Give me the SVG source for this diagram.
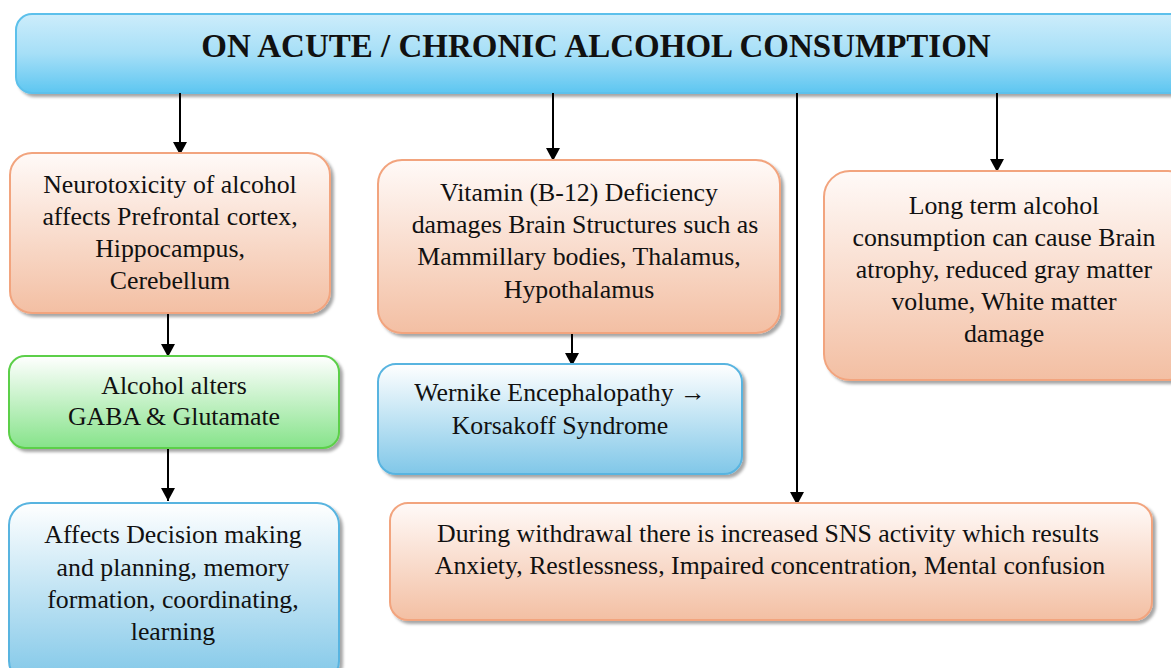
<svg xmlns="http://www.w3.org/2000/svg" width="1171" height="668" viewBox="0 0 1171 668" font-family="Liberation Serif, Times New Roman, serif">
<style>
.t{font-family:'Liberation Serif','Times New Roman',serif;font-size:25.8px;fill:#111;text-anchor:middle}
.title{font-family:'Liberation Serif','Times New Roman',serif;font-size:33px;font-weight:bold;fill:#111;text-anchor:middle}
.peach{fill:url(#gPeach);stroke:#f2a47e;stroke-width:2}
.green{fill:url(#gGreen);stroke:#5ccf4a;stroke-width:2}
.blue{fill:url(#gBlue);stroke:#58b4e0;stroke-width:2}
.conn{stroke:#000;stroke-width:2;fill:none;marker-end:url(#ah)}
</style>
<defs>
<linearGradient id="gTitle" x1="0" y1="0" x2="0" y2="1"><stop offset="0" stop-color="#cdedfb"/><stop offset="0.5" stop-color="#a6dff7"/><stop offset="1" stop-color="#5dc6f1"/></linearGradient>
<linearGradient id="gPeach" x1="0" y1="0" x2="0" y2="1"><stop offset="0" stop-color="#fffaf8"/><stop offset="1" stop-color="#f3bfa3"/></linearGradient>
<linearGradient id="gGreen" x1="0" y1="0" x2="0" y2="1"><stop offset="0" stop-color="#ffffff"/><stop offset="1" stop-color="#86e38a"/></linearGradient>
<linearGradient id="gBlue" x1="0" y1="0" x2="0" y2="1"><stop offset="0" stop-color="#ffffff"/><stop offset="1" stop-color="#80c7e8"/></linearGradient>
<filter id="sh" x="-5%" y="-5%" width="115%" height="120%"><feDropShadow dx="3" dy="3" stdDeviation="1.5" flood-color="#000" flood-opacity="0.35"/></filter>
<marker id="ah" markerWidth="14" markerHeight="14" viewBox="0 0 13 14" refX="13" refY="7" orient="auto" markerUnits="userSpaceOnUse"><path d="M0,0 L13,7 L0,14 Z" fill="#000"/></marker>
</defs>
<g id="title">
<rect x="16" y="14" width="1175" height="79" rx="16" fill="url(#gTitle)" stroke="#5bc0eb" stroke-width="2" filter="url(#sh)"/>
<text class="title" x="596" y="57">ON ACUTE / CHRONIC ALCOHOL CONSUMPTION</text>
</g>
<g id="connectors">
<line class="conn" x1="180" y1="93" x2="180" y2="155"/>
<line class="conn" x1="553" y1="93" x2="553" y2="161"/>
<line class="conn" x1="797" y1="93" x2="797" y2="505"/>
<line class="conn" x1="997" y1="93" x2="997" y2="172"/>
<line class="conn" x1="168" y1="314" x2="168" y2="357"/>
<line class="conn" x1="572" y1="334" x2="572" y2="366"/>
<line class="conn" x1="168" y1="449" x2="168" y2="501"/>
</g>
<g id="neuro">
<rect class="peach" x="10" y="153" width="320" height="160" rx="22" filter="url(#sh)"/>
<text class="t" x="170" y="193">Neurotoxicity of alcohol</text>
<text class="t" x="170" y="225">affects Prefrontal cortex,</text>
<text class="t" x="170" y="257">Hippocampus,</text>
<text class="t" x="170" y="289">Cerebellum</text>
</g>
<g id="gaba">
<rect class="green" x="9" y="356" width="330" height="92" rx="16" filter="url(#sh)"/>
<text class="t" x="174" y="394">Alcohol alters</text>
<text class="t" x="174" y="425">GABA &amp; Glutamate</text>
</g>
<g id="affects">
<rect class="blue" x="9" y="503" width="330" height="180" rx="22" filter="url(#sh)"/>
<text class="t" x="173" y="543">Affects Decision making</text>
<text class="t" x="173" y="576">and planning, memory</text>
<text class="t" x="173" y="608">formation, coordinating,</text>
<text class="t" x="173" y="640">learning</text>
</g>
<g id="vitamin">
<rect class="peach" x="378" y="160" width="402" height="173" rx="24" filter="url(#sh)"/>
<text class="t" x="579" y="201">Vitamin (B-12) Deficiency</text>
<text class="t" x="585" y="233">damages Brain Structures such as</text>
<text class="t" x="579" y="265">Mammillary bodies, Thalamus,</text>
<text class="t" x="579" y="298">Hypothalamus</text>
</g>
<g id="wernike">
<rect class="blue" x="378" y="364" width="364" height="110" rx="18" filter="url(#sh)"/>
<text class="t" x="560" y="401">Wernike Encephalopathy →</text>
<text class="t" x="560" y="434">Korsakoff Syndrome</text>
</g>
<g id="longterm">
<rect class="peach" x="824" y="171" width="370" height="209" rx="26" filter="url(#sh)"/>
<text class="t" x="1004" y="214">Long term alcohol</text>
<text class="t" x="1004" y="246">consumption can cause Brain</text>
<text class="t" x="1004" y="278">atrophy, reduced gray matter</text>
<text class="t" x="1004" y="310">volume, White matter</text>
<text class="t" x="1004" y="342">damage</text>
</g>
<g id="withdrawal">
<rect class="peach" x="390" y="503" width="762" height="117" rx="18" filter="url(#sh)"/>
<text class="t" x="768" y="542">During withdrawal there is increased SNS activity which results</text>
<text class="t" x="770" y="574">Anxiety, Restlessness, Impaired concentration, Mental confusion</text>
</g>
</svg>
